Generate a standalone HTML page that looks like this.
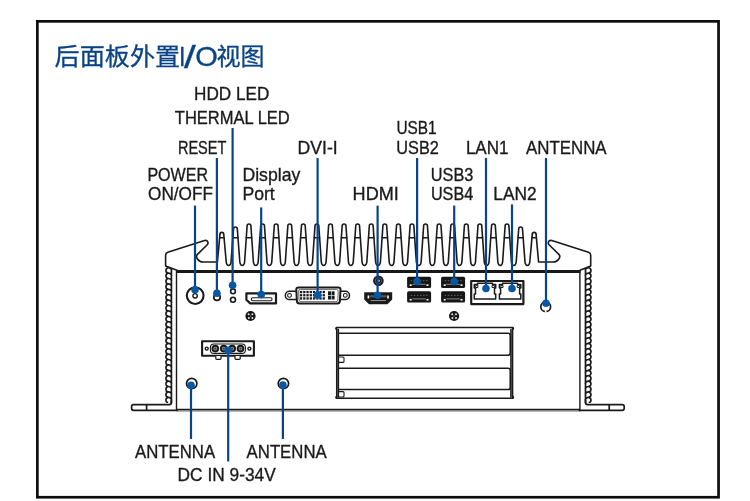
<!DOCTYPE html>
<html lang="zh-CN"><head><meta charset="utf-8"><title>后面板外置I/O视图</title>
<style>
html,body{margin:0;padding:0;background:#fff;}
body{width:750px;height:501px;overflow:hidden;}
svg{display:block;will-change:transform;}
.lb{font-family:"Liberation Sans","Noto Sans CJK SC",sans-serif;font-size:19px;fill:#1a1a1a;stroke:#1a1a1a;stroke-width:0.35px;}
.tt{font-family:"Liberation Sans","Noto Sans CJK SC",sans-serif;font-size:24px;font-weight:400;fill:#0a4384;stroke:#0a4384;stroke-width:0.3px;}
.k{fill:none;stroke:#1a1a1a;stroke-width:1.4;stroke-linejoin:round;stroke-linecap:round;}
.kw{fill:#fff;stroke:#1a1a1a;stroke-width:1.3;stroke-linejoin:round;}
.b{stroke:#09448a;stroke-width:2.2;fill:none;}
.d{fill:#0857a5;}
</style></head><body>
<svg width="750" height="501" viewBox="0 0 750 501">
<rect x="37.35" y="21.35" width="681.2" height="475.9" fill="none" stroke="#0d0d0d" stroke-width="2.7"/>
<text class="tt" y="65.2"><tspan x="54.6" textLength="125.6" lengthAdjust="spacingAndGlyphs">后面板外置</tspan><tspan x="179" y="65.9" style="font-size:27.5px;font-weight:400" textLength="6.5" lengthAdjust="spacingAndGlyphs">I</tspan><tspan x="184" y="67.6" style="font-size:31px;font-weight:400" textLength="11.8" lengthAdjust="spacingAndGlyphs">/</tspan><tspan x="195.2" y="65.9" style="font-size:27.5px;font-weight:400" textLength="22.6" lengthAdjust="spacingAndGlyphs">O</tspan><tspan x="216.6" y="65.2" textLength="48" lengthAdjust="spacingAndGlyphs">视图</tspan></text>
<g>
<text class="lb" x="194.1" y="100.4" textLength="75.2" lengthAdjust="spacingAndGlyphs">HDD LED</text>
<text class="lb" x="174.8" y="124.0" textLength="115.0" lengthAdjust="spacingAndGlyphs">THERMAL LED</text>
<text class="lb" x="177.9" y="153.8" textLength="48.5" lengthAdjust="spacingAndGlyphs">RESET</text>
<text class="lb" x="147.4" y="180.8" textLength="60.6" lengthAdjust="spacingAndGlyphs">POWER</text>
<text class="lb" x="148.0" y="200.4" textLength="65.0" lengthAdjust="spacingAndGlyphs">ON/OFF</text>
<text class="lb" x="242.4" y="180.8" textLength="57.9" lengthAdjust="spacingAndGlyphs">Display</text>
<text class="lb" x="242.4" y="200.4" textLength="32.3" lengthAdjust="spacingAndGlyphs">Port</text>
<text class="lb" x="297.6" y="153.8" textLength="40.1" lengthAdjust="spacingAndGlyphs">DVI-I</text>
<text class="lb" x="352.6" y="200.4" textLength="46.2" lengthAdjust="spacingAndGlyphs">HDMI</text>
<text class="lb" x="396.4" y="134.0" textLength="40.2" lengthAdjust="spacingAndGlyphs">USB1</text>
<text class="lb" x="396.3" y="153.8" textLength="42.5" lengthAdjust="spacingAndGlyphs">USB2</text>
<text class="lb" x="430.8" y="180.8" textLength="42.5" lengthAdjust="spacingAndGlyphs">USB3</text>
<text class="lb" x="430.9" y="200.4" textLength="42.3" lengthAdjust="spacingAndGlyphs">USB4</text>
<text class="lb" x="465.9" y="153.8" textLength="42.6" lengthAdjust="spacingAndGlyphs">LAN1</text>
<text class="lb" x="493.3" y="200.4" textLength="43.3" lengthAdjust="spacingAndGlyphs">LAN2</text>
<text class="lb" x="526.0" y="153.8" textLength="80.6" lengthAdjust="spacingAndGlyphs">ANTENNA</text>
<text class="lb" x="135.0" y="457.9" textLength="80.1" lengthAdjust="spacingAndGlyphs">ANTENNA</text>
<text class="lb" x="246.6" y="457.9" textLength="80.1" lengthAdjust="spacingAndGlyphs">ANTENNA</text>
<text class="lb" x="177.6" y="480.5" textLength="98.1" lengthAdjust="spacingAndGlyphs">DC IN 9-34V</text>
</g>
<path class="k" style="stroke-width:1.6" d="M 177 270.3 L 165.6 266 L 165.6 255.2 Q 165.6 253 167.8 252.3 L 204.5 240.6 Q 207.6 239.8 208 242.6 Q 208.2 244 207 245 L 197.2 254.6 Q 195.6 256.4 197.5 259 Q 199.4 262 203 262 L 217.44 262 L 219.94 234.40 Q 219.94 232.40 221.84 232.40 Q 223.74 232.40 223.74 234.40 L 226.24 262.00 C 226.74 266.60 230.52 266.60 231.02 262.00 L 233.52 229.00 Q 233.52 227.00 235.42 227.00 Q 237.32 227.00 237.32 229.00 L 239.82 262.00 C 240.32 266.60 244.10 266.60 244.60 262.00 L 247.10 226.00 Q 247.10 224.00 249.00 224.00 Q 250.90 224.00 250.90 226.00 L 253.40 262.00 C 253.90 266.60 257.68 266.60 258.18 262.00 L 260.68 226.00 Q 260.68 224.00 262.58 224.00 Q 264.48 224.00 264.48 226.00 L 266.98 262.00 C 267.48 266.60 271.26 266.60 271.76 262.00 L 274.26 226.00 Q 274.26 224.00 276.16 224.00 Q 278.06 224.00 278.06 226.00 L 280.56 262.00 C 281.06 266.60 284.84 266.60 285.34 262.00 L 287.84 226.00 Q 287.84 224.00 289.74 224.00 Q 291.64 224.00 291.64 226.00 L 294.14 262.00 C 294.64 266.60 298.42 266.60 298.92 262.00 L 301.42 226.00 Q 301.42 224.00 303.32 224.00 Q 305.22 224.00 305.22 226.00 L 307.72 262.00 C 308.22 266.60 312.00 266.60 312.50 262.00 L 315.00 226.00 Q 315.00 224.00 316.90 224.00 Q 318.80 224.00 318.80 226.00 L 321.30 262.00 C 321.80 266.60 325.58 266.60 326.08 262.00 L 328.58 226.00 Q 328.58 224.00 330.48 224.00 Q 332.38 224.00 332.38 226.00 L 334.88 262.00 C 335.38 266.60 339.16 266.60 339.66 262.00 L 342.16 226.00 Q 342.16 224.00 344.06 224.00 Q 345.96 224.00 345.96 226.00 L 348.46 262.00 C 348.96 266.60 352.74 266.60 353.24 262.00 L 355.74 226.00 Q 355.74 224.00 357.64 224.00 Q 359.54 224.00 359.54 226.00 L 362.04 262.00 C 362.54 266.60 366.32 266.60 366.82 262.00 L 369.32 226.00 Q 369.32 224.00 371.22 224.00 Q 373.12 224.00 373.12 226.00 L 375.62 262.00 C 376.12 266.60 379.90 266.60 380.40 262.00 L 382.90 226.00 Q 382.90 224.00 384.80 224.00 Q 386.70 224.00 386.70 226.00 L 389.20 262.00 C 389.70 266.60 393.48 266.60 393.98 262.00 L 396.48 226.00 Q 396.48 224.00 398.38 224.00 Q 400.28 224.00 400.28 226.00 L 402.78 262.00 C 403.28 266.60 407.06 266.60 407.56 262.00 L 410.06 226.00 Q 410.06 224.00 411.96 224.00 Q 413.86 224.00 413.86 226.00 L 416.36 262.00 C 416.86 266.60 420.64 266.60 421.14 262.00 L 423.64 226.00 Q 423.64 224.00 425.54 224.00 Q 427.44 224.00 427.44 226.00 L 429.94 262.00 C 430.44 266.60 434.22 266.60 434.72 262.00 L 437.22 226.00 Q 437.22 224.00 439.12 224.00 Q 441.02 224.00 441.02 226.00 L 443.52 262.00 C 444.02 266.60 447.80 266.60 448.30 262.00 L 450.80 226.00 Q 450.80 224.00 452.70 224.00 Q 454.60 224.00 454.60 226.00 L 457.10 262.00 C 457.60 266.60 461.38 266.60 461.88 262.00 L 464.38 226.00 Q 464.38 224.00 466.28 224.00 Q 468.18 224.00 468.18 226.00 L 470.68 262.00 C 471.18 266.60 474.96 266.60 475.46 262.00 L 477.96 226.00 Q 477.96 224.00 479.86 224.00 Q 481.76 224.00 481.76 226.00 L 484.26 262.00 C 484.76 266.60 488.54 266.60 489.04 262.00 L 491.54 226.00 Q 491.54 224.00 493.44 224.00 Q 495.34 224.00 495.34 226.00 L 497.84 262.00 C 498.34 266.60 502.12 266.60 502.62 262.00 L 505.12 226.00 Q 505.12 224.00 507.02 224.00 Q 508.92 224.00 508.92 226.00 L 511.42 262.00 C 511.92 266.60 515.70 266.60 516.20 262.00 L 518.70 229.00 Q 518.70 227.00 520.60 227.00 Q 522.50 227.00 522.50 229.00 L 525.00 262.00 C 525.50 266.60 529.28 266.60 529.78 262.00 L 532.28 234.40 Q 532.28 232.40 534.18 232.40 Q 536.08 232.40 536.08 234.40 L 538.58 262.00 L 553.30 262 Q 556.90 262 558.80 259 Q 560.70 256.4 559.10 254.6 L 549.30 245 Q 548.10 244 548.30 242.6 Q 548.70 239.8 551.80 240.6 L 588.50 252.3 Q 590.70 253 590.70 255.2 L 590.70 266 L 580 270.3"/>
<path class="k" style="stroke-width:1.5" d="M 219.63 237.8 H 224.05 M 232.85 237.8 H 237.99 M 246.28 237.8 H 251.72 M 259.86 237.8 H 265.30 M 273.44 237.8 H 278.88 M 287.02 237.8 H 292.46 M 300.60 237.8 H 306.04 M 314.18 237.8 H 319.62 M 327.76 237.8 H 333.20 M 341.34 237.8 H 346.78 M 354.92 237.8 H 360.36 M 368.50 237.8 H 373.94 M 382.08 237.8 H 387.52 M 395.66 237.8 H 401.10 M 409.24 237.8 H 414.68 M 422.82 237.8 H 428.26 M 436.40 237.8 H 441.84 M 449.98 237.8 H 455.42 M 463.56 237.8 H 469.00 M 477.14 237.8 H 482.58 M 490.72 237.8 H 496.16 M 504.30 237.8 H 509.74 M 518.03 237.8 H 523.17 M 531.97 237.8 H 536.39"/>
<path d="M 176.5 271.5 H 580.5" stroke="#181818" stroke-width="2.9" fill="none"/>
<path d="M 177 409.5 H 580" stroke="#1c1c1c" stroke-width="1.5" fill="none"/><path d="M 177 410.8 H 580" stroke="#707070" stroke-width="1.2" fill="none"/>
<path class="k" d="M 176.5 271 V 410.6 M 579.9 271 V 410.6"/>
<path class="k" style="stroke-width:1.7" d="M 171.4 400 V 402.6 Q 171.4 404.6 169.4 404.6 H 133.6 Q 131.6 404.6 131.6 406.6 V 408.3 Q 131.6 410.3 133.6 410.3 H 177 M 146.6 404.6 V 410.3"/>
<path class="k" style="stroke-width:1.7" d="M 585.5 400 V 402.6 Q 585.5 404.6 587.5 404.6 H 622.2 Q 624.2 404.6 624.2 406.6 V 408.3 Q 624.2 410.3 622.2 410.3 H 579.4 M 609.2 404.6 V 410.3"/>
<clipPath id="cl"><path d="M 160 266 L 165.6 266 L 177 270.3 V 403 H 160 Z"/></clipPath>
<clipPath id="cr"><path d="M 596 266 L 590.70 266 L 580 270.3 V 403 H 596 Z"/></clipPath>
<path class="k" clip-path="url(#cl)" style="stroke-width:1.7" d="M 171.4 266 V 403 M 171.60 269.90 C 170.60 266.90 166.40 267.10 166.00 269.90 Q 165.70 272.50 167.40 272.70 M 171.60 275.30 C 170.60 272.30 166.40 272.50 166.00 275.30 Q 165.70 277.90 167.40 278.10 M 171.60 280.70 C 170.60 277.70 166.40 277.90 166.00 280.70 Q 165.70 283.30 167.40 283.50 M 171.60 286.10 C 170.60 283.10 166.40 283.30 166.00 286.10 Q 165.70 288.70 167.40 288.90 M 171.60 291.50 C 170.60 288.50 166.40 288.70 166.00 291.50 Q 165.70 294.10 167.40 294.30 M 171.60 296.90 C 170.60 293.90 166.40 294.10 166.00 296.90 Q 165.70 299.50 167.40 299.70 M 171.60 302.30 C 170.60 299.30 166.40 299.50 166.00 302.30 Q 165.70 304.90 167.40 305.10 M 171.60 307.70 C 170.60 304.70 166.40 304.90 166.00 307.70 Q 165.70 310.30 167.40 310.50 M 171.60 313.10 C 170.60 310.10 166.40 310.30 166.00 313.10 Q 165.70 315.70 167.40 315.90 M 171.60 318.50 C 170.60 315.50 166.40 315.70 166.00 318.50 Q 165.70 321.10 167.40 321.30 M 171.60 323.90 C 170.60 320.90 166.40 321.10 166.00 323.90 Q 165.70 326.50 167.40 326.70 M 171.60 329.30 C 170.60 326.30 166.40 326.50 166.00 329.30 Q 165.70 331.90 167.40 332.10 M 171.60 334.70 C 170.60 331.70 166.40 331.90 166.00 334.70 Q 165.70 337.30 167.40 337.50 M 171.60 340.10 C 170.60 337.10 166.40 337.30 166.00 340.10 Q 165.70 342.70 167.40 342.90 M 171.60 345.50 C 170.60 342.50 166.40 342.70 166.00 345.50 Q 165.70 348.10 167.40 348.30 M 171.60 350.90 C 170.60 347.90 166.40 348.10 166.00 350.90 Q 165.70 353.50 167.40 353.70 M 171.60 356.30 C 170.60 353.30 166.40 353.50 166.00 356.30 Q 165.70 358.90 167.40 359.10 M 171.60 361.70 C 170.60 358.70 166.40 358.90 166.00 361.70 Q 165.70 364.30 167.40 364.50 M 171.60 367.10 C 170.60 364.10 166.40 364.30 166.00 367.10 Q 165.70 369.70 167.40 369.90 M 171.60 372.50 C 170.60 369.50 166.40 369.70 166.00 372.50 Q 165.70 375.10 167.40 375.30 M 171.60 377.90 C 170.60 374.90 166.40 375.10 166.00 377.90 Q 165.70 380.50 167.40 380.70 M 171.60 383.30 C 170.60 380.30 166.40 380.50 166.00 383.30 Q 165.70 385.90 167.40 386.10 M 171.60 388.70 C 170.60 385.70 166.40 385.90 166.00 388.70 Q 165.70 391.30 167.40 391.50 M 171.60 394.10 C 170.60 391.10 166.40 391.30 166.00 394.10 Q 165.70 396.70 167.40 396.90 M 171.60 399.50 C 170.60 396.50 166.40 396.70 166.00 399.50 Q 165.70 402.10 167.40 402.30"/>
<path class="k" clip-path="url(#cr)" style="stroke-width:1.7" d="M 585.50 266 V 403 M 585.30 269.90 C 586.30 266.90 590.50 267.10 590.90 269.90 Q 591.20 272.50 589.50 272.70 M 585.30 275.30 C 586.30 272.30 590.50 272.50 590.90 275.30 Q 591.20 277.90 589.50 278.10 M 585.30 280.70 C 586.30 277.70 590.50 277.90 590.90 280.70 Q 591.20 283.30 589.50 283.50 M 585.30 286.10 C 586.30 283.10 590.50 283.30 590.90 286.10 Q 591.20 288.70 589.50 288.90 M 585.30 291.50 C 586.30 288.50 590.50 288.70 590.90 291.50 Q 591.20 294.10 589.50 294.30 M 585.30 296.90 C 586.30 293.90 590.50 294.10 590.90 296.90 Q 591.20 299.50 589.50 299.70 M 585.30 302.30 C 586.30 299.30 590.50 299.50 590.90 302.30 Q 591.20 304.90 589.50 305.10 M 585.30 307.70 C 586.30 304.70 590.50 304.90 590.90 307.70 Q 591.20 310.30 589.50 310.50 M 585.30 313.10 C 586.30 310.10 590.50 310.30 590.90 313.10 Q 591.20 315.70 589.50 315.90 M 585.30 318.50 C 586.30 315.50 590.50 315.70 590.90 318.50 Q 591.20 321.10 589.50 321.30 M 585.30 323.90 C 586.30 320.90 590.50 321.10 590.90 323.90 Q 591.20 326.50 589.50 326.70 M 585.30 329.30 C 586.30 326.30 590.50 326.50 590.90 329.30 Q 591.20 331.90 589.50 332.10 M 585.30 334.70 C 586.30 331.70 590.50 331.90 590.90 334.70 Q 591.20 337.30 589.50 337.50 M 585.30 340.10 C 586.30 337.10 590.50 337.30 590.90 340.10 Q 591.20 342.70 589.50 342.90 M 585.30 345.50 C 586.30 342.50 590.50 342.70 590.90 345.50 Q 591.20 348.10 589.50 348.30 M 585.30 350.90 C 586.30 347.90 590.50 348.10 590.90 350.90 Q 591.20 353.50 589.50 353.70 M 585.30 356.30 C 586.30 353.30 590.50 353.50 590.90 356.30 Q 591.20 358.90 589.50 359.10 M 585.30 361.70 C 586.30 358.70 590.50 358.90 590.90 361.70 Q 591.20 364.30 589.50 364.50 M 585.30 367.10 C 586.30 364.10 590.50 364.30 590.90 367.10 Q 591.20 369.70 589.50 369.90 M 585.30 372.50 C 586.30 369.50 590.50 369.70 590.90 372.50 Q 591.20 375.10 589.50 375.30 M 585.30 377.90 C 586.30 374.90 590.50 375.10 590.90 377.90 Q 591.20 380.50 589.50 380.70 M 585.30 383.30 C 586.30 380.30 590.50 380.50 590.90 383.30 Q 591.20 385.90 589.50 386.10 M 585.30 388.70 C 586.30 385.70 590.50 385.90 590.90 388.70 Q 591.20 391.30 589.50 391.50 M 585.30 394.10 C 586.30 391.10 590.50 391.30 590.90 394.10 Q 591.20 396.70 589.50 396.90 M 585.30 399.50 C 586.30 396.50 590.50 396.70 590.90 399.50 Q 591.20 402.10 589.50 402.30"/>
<path class="k" style="stroke-width:1.5" d="M 336.2 329.3 Q 335.4 328.2 336.6 327.5 H 512.7 Q 513.9 328.2 513.1 329.3 M 336.2 396.6 Q 335.4 397.7 336.6 398.3 H 512.7 Q 513.9 397.7 513.1 396.6"/>
<path class="k" style="stroke-width:1.5" d="M 336.7 328 V 398 M 338.4 329.5 V 397 M 512.6 328 V 398 M 510.9 329.5 V 397"/>
<path class="k" style="stroke-width:1.5" d="M 339 333.2 H 508 Q 510.2 333.2 510.2 335.2 V 353 Q 510.2 355.2 508 355.2 H 339"/>
<path class="k" style="stroke-width:1.5" d="M 339 368.2 H 508 Q 510.2 368.2 510.2 370.2 V 387.4 Q 510.2 389.6 508 389.6 H 339"/>
<path class="k" style="stroke-width:1.1" d="M 339 357 H 343 Q 344 357 344 358 V 361.4 Q 344 362.4 343 362.4 H 339 M 339 391.6 H 343 Q 344 391.6 344 392.6 V 396 Q 344 397 343 397 H 339"/>
<circle class="kw" style="stroke-width:2.1" cx="195.2" cy="295.6" r="8.4"/>
<circle class="kw" style="stroke-width:1.4" cx="195.1" cy="295.8" r="2.2"/>
<circle class="kw" style="stroke-width:1.7" cx="217" cy="297.2" r="3.2"/>
<circle class="kw" style="stroke-width:1.6" cx="233" cy="291.3" r="2.4"/>
<circle class="kw" style="stroke-width:1.6" cx="233" cy="299.7" r="2.5"/>
<path class="kw" style="stroke-width:2.2" d="M 246.4 293.4 H 276 V 303.4 H 250.2 L 246.4 299.8 Z"/>
<rect class="k" style="stroke-width:1.1" x="251.4" y="297.8" width="20.6" height="3" rx="1.2"/>
<circle cx="250.5" cy="316.0" r="5.1" fill="#151515"/>
<circle cx="248.6" cy="314.3" r="1" fill="#e8e8e8"/>
<circle cx="252.4" cy="314.3" r="1" fill="#e8e8e8"/>
<circle cx="248.8" cy="317.9" r="1" fill="#e8e8e8"/>
<circle cx="252.4" cy="317.9" r="1" fill="#e8e8e8"/>
<circle cx="250.5" cy="316.0" r="0.8" fill="#777"/>
<circle cx="454.1" cy="316.0" r="5.1" fill="#151515"/>
<circle cx="452.2" cy="314.3" r="1" fill="#e8e8e8"/>
<circle cx="456.0" cy="314.3" r="1" fill="#e8e8e8"/>
<circle cx="452.4" cy="317.9" r="1" fill="#e8e8e8"/>
<circle cx="456.0" cy="317.9" r="1" fill="#e8e8e8"/>
<circle cx="454.1" cy="316.0" r="0.8" fill="#777"/>
<path class="kw" style="stroke-width:1.5" d="M 289.5 291.2 H 345.3 A 4.2 4.2 0 0 1 345.3 299.6 H 289.5 A 4.2 4.2 0 0 1 289.5 291.2 Z"/>
<circle class="kw" style="stroke-width:1.1" cx="289.5" cy="295.4" r="1.9"/>
<circle class="kw" style="stroke-width:1.1" cx="345.3" cy="295.4" r="1.9"/>
<path class="kw" style="stroke-width:2" d="M 298.6 287.4 H 338.2 Q 340.6 287.4 340.5 289.8 L 339.9 301.2 Q 339.7 303.6 337.3 303.6 H 299.5 Q 297.1 303.6 296.9 301.2 L 296.3 289.8 Q 296.2 287.4 298.6 287.4 Z"/>
<path style="fill:none;stroke:#666;stroke-width:1" d="M 300.4 289.4 H 336.4 Q 338.3 289.4 338.2 291.2 L 337.8 300 Q 337.7 301.7 335.9 301.7 H 300.9 Q 299.1 301.7 299 300 L 298.6 291.2 Q 298.5 289.4 300.4 289.4 Z"/>
<rect x="299.90" y="290.90" width="2.3" height="2.3" fill="#1a1a1a"/><rect x="303.15" y="290.90" width="2.3" height="2.3" fill="#1a1a1a"/><rect x="306.40" y="290.90" width="2.3" height="2.3" fill="#1a1a1a"/><rect x="309.65" y="290.90" width="2.3" height="2.3" fill="#1a1a1a"/><rect x="312.90" y="290.90" width="2.3" height="2.3" fill="#1a1a1a"/><rect x="316.15" y="290.90" width="2.3" height="2.3" fill="#1a1a1a"/><rect x="319.40" y="290.90" width="2.3" height="2.3" fill="#1a1a1a"/><rect x="322.65" y="290.90" width="2.3" height="2.3" fill="#1a1a1a"/><rect x="299.90" y="294.10" width="2.3" height="2.3" fill="#1a1a1a"/><rect x="303.15" y="294.10" width="2.3" height="2.3" fill="#1a1a1a"/><rect x="306.40" y="294.10" width="2.3" height="2.3" fill="#1a1a1a"/><rect x="309.65" y="294.10" width="2.3" height="2.3" fill="#1a1a1a"/><rect x="312.90" y="294.10" width="2.3" height="2.3" fill="#1a1a1a"/><rect x="316.15" y="294.10" width="2.3" height="2.3" fill="#1a1a1a"/><rect x="319.40" y="294.10" width="2.3" height="2.3" fill="#1a1a1a"/><rect x="322.65" y="294.10" width="2.3" height="2.3" fill="#1a1a1a"/><rect x="299.90" y="297.30" width="2.3" height="2.3" fill="#1a1a1a"/><rect x="303.15" y="297.30" width="2.3" height="2.3" fill="#1a1a1a"/><rect x="306.40" y="297.30" width="2.3" height="2.3" fill="#1a1a1a"/><rect x="309.65" y="297.30" width="2.3" height="2.3" fill="#1a1a1a"/><rect x="312.90" y="297.30" width="2.3" height="2.3" fill="#1a1a1a"/><rect x="316.15" y="297.30" width="2.3" height="2.3" fill="#1a1a1a"/><rect x="319.40" y="297.30" width="2.3" height="2.3" fill="#1a1a1a"/><rect x="322.65" y="297.30" width="2.3" height="2.3" fill="#1a1a1a"/>
<rect x="328.00" y="291.30" width="3" height="3.8" fill="#1a1a1a"/>
<rect x="328.00" y="295.70" width="3" height="3.8" fill="#1a1a1a"/>
<rect x="331.60" y="291.30" width="3" height="3.8" fill="#1a1a1a"/>
<rect x="331.60" y="295.70" width="3" height="3.8" fill="#1a1a1a"/>
<circle cx="378.4" cy="280.8" r="4.3" fill="#777" stroke="#1a1a1a" stroke-width="2"/>
<circle cx="378.4" cy="280.8" r="2" fill="#fff" stroke="#1a1a1a" stroke-width="1.4"/>
<path d="M 364.2 292.2 H 392.2 V 299.4 L 387.4 304.2 H 369 L 364.2 299.4 Z" fill="#1a1a1a"/>
<path d="M 368.4 295.6 V 298.6 M 388 295.6 V 298.6" stroke="#fff" stroke-width="1.6" fill="none"/>
<path d="M 370.6 300.6 H 385.8" stroke="#999" stroke-width="1" fill="none"/>
<path d="M 370 295.2 H 386.4 V 297.4 H 370 Z" fill="#555"/>
<rect x="407.1" y="276.7" width="24" height="11.3" rx="1.6" fill="#161616"/>
<path d="M 410.7 280.7 h 17" stroke="#777" stroke-width="0.9" stroke-dasharray="1.4 1.7" fill="none"/>
<path d="M 412.4 284.3 h 13.4" stroke="#888" stroke-width="1" fill="none"/>
<rect x="409.7" y="284.3" width="2" height="1.7" fill="#eee"/><rect x="426.5" y="284.3" width="2" height="1.7" fill="#eee"/>
<rect x="407.1" y="291.3" width="24" height="11.3" rx="1.6" fill="#161616"/>
<path d="M 410.7 295.3 h 17" stroke="#777" stroke-width="0.9" stroke-dasharray="1.4 1.7" fill="none"/>
<path d="M 412.4 298.9 h 13.4" stroke="#888" stroke-width="1" fill="none"/>
<rect x="409.7" y="298.9" width="2" height="1.7" fill="#eee"/><rect x="426.5" y="298.9" width="2" height="1.7" fill="#eee"/>
<rect x="441.1" y="276.7" width="24" height="11.3" rx="1.6" fill="#161616"/>
<path d="M 444.7 280.7 h 17" stroke="#777" stroke-width="0.9" stroke-dasharray="1.4 1.7" fill="none"/>
<path d="M 446.4 284.3 h 13.4" stroke="#888" stroke-width="1" fill="none"/>
<rect x="443.7" y="284.3" width="2" height="1.7" fill="#eee"/><rect x="460.5" y="284.3" width="2" height="1.7" fill="#eee"/>
<rect x="441.1" y="291.3" width="24" height="11.3" rx="1.6" fill="#161616"/>
<path d="M 444.7 295.3 h 17" stroke="#777" stroke-width="0.9" stroke-dasharray="1.4 1.7" fill="none"/>
<path d="M 446.4 298.9 h 13.4" stroke="#888" stroke-width="1" fill="none"/>
<rect x="443.7" y="298.9" width="2" height="1.7" fill="#eee"/><rect x="460.5" y="298.9" width="2" height="1.7" fill="#eee"/>
<rect class="kw" style="stroke-width:2.2" x="471.2" y="281" width="52.2" height="23.1" />
<path class="kw" style="stroke-width:1.5" d="M 477.5 283.3 L 492.5 283.3 L 492.5 284.5 L 495.7 284.5 L 495.7 288.1 L 494.5 288.1 L 494.5 293.9 L 495.7 293.9 L 495.7 299.1 L 474.3 299.1 L 474.3 293.9 L 475.5 293.9 L 475.5 288.1 L 474.3 288.1 L 474.3 284.5 L 477.5 284.5 Z"/>
<rect class="kw" style="stroke-width:1" x="475.7" y="285.3" width="2.2" height="2.2"/>
<rect class="kw" style="stroke-width:1" x="492.1" y="285.3" width="2.2" height="2.2"/>
<path class="kw" style="stroke-width:1.5" d="M 502.6 283.3 L 517.6 283.3 L 517.6 284.5 L 520.8 284.5 L 520.8 288.1 L 519.6 288.1 L 519.6 293.9 L 520.8 293.9 L 520.8 299.1 L 499.4 299.1 L 499.4 293.9 L 500.6 293.9 L 500.6 288.1 L 499.4 288.1 L 499.4 284.5 L 502.6 284.5 Z"/>
<rect class="kw" style="stroke-width:1" x="500.8" y="285.3" width="2.2" height="2.2"/>
<rect class="kw" style="stroke-width:1" x="517.2" y="285.3" width="2.2" height="2.2"/>
<circle class="kw" style="stroke-width:1.7" cx="545.7" cy="306.8" r="4.9"/>
<circle class="kw" style="stroke-width:1.7" cx="191.7" cy="383.5" r="5.2"/>
<circle class="kw" style="stroke-width:1.7" cx="283.4" cy="383.5" r="5.2"/>
<rect x="544.9" y="310.4" width="1.6" height="2.8" fill="#fff"/>
<rect class="kw" style="stroke-width:2.1" x="202.1" y="341.3" width="51.8" height="14.5"/>
<rect class="kw" style="stroke-width:1.1" x="210.4" y="344" width="35" height="9.4" rx="3.5"/>
<circle cx="215.3" cy="348.6" r="2.9" fill="#8a8a8a" stroke="#1a1a1a" stroke-width="1.9"/>
<circle cx="215.3" cy="348.6" r="0.9" fill="#333"/>
<circle cx="223.7" cy="348.6" r="2.9" fill="#8a8a8a" stroke="#1a1a1a" stroke-width="1.9"/>
<circle cx="223.7" cy="348.6" r="0.9" fill="#333"/>
<circle cx="232.2" cy="348.6" r="2.9" fill="#8a8a8a" stroke="#1a1a1a" stroke-width="1.9"/>
<circle cx="232.2" cy="348.6" r="0.9" fill="#333"/>
<circle cx="240.5" cy="348.6" r="2.9" fill="#8a8a8a" stroke="#1a1a1a" stroke-width="1.9"/>
<circle cx="240.5" cy="348.6" r="0.9" fill="#333"/>
<circle class="kw" style="stroke-width:1.4" cx="206.7" cy="348.6" r="1.5"/>
<circle class="kw" style="stroke-width:1.4" cx="249.4" cy="348.6" r="1.5"/>
<path class="kw" style="stroke-width:1.2" d="M 215.8 356 V 358.6 Q 215.8 359.4 216.6 359.4 H 220.2 Q 221 359.4 221 358.6 V 356 M 235 356 V 358.6 Q 235 359.4 235.8 359.4 H 239.4 Q 240.2 359.4 240.2 358.6 V 356"/>
<path class="b" d="M 195.0 205.6 V 289.8"/><circle class="d" cx="195.0" cy="289.8" r="3.8"/>
<path class="b" d="M 216.9 158.0 V 293.2"/><circle class="d" cx="216.9" cy="293.2" r="3.8"/>
<path class="b" d="M 232.6 128.0 V 285.2"/><circle class="d" cx="232.6" cy="285.2" r="3.8"/>
<path class="b" d="M 261.2 207.4 V 294.6"/><circle class="d" cx="261.2" cy="294.6" r="3.8"/>
<path class="b" d="M 317.6 158.0 V 295.2"/><circle class="d" cx="317.6" cy="295.2" r="3.8"/>
<path class="b" d="M 377.6 205.6 V 295.3"/><circle class="d" cx="377.6" cy="295.3" r="3.8"/>
<path class="b" d="M 417.1 158.0 V 281.6"/><circle class="d" cx="417.1" cy="281.6" r="3.8"/>
<path class="b" d="M 454.2 205.6 V 281.6"/><circle class="d" cx="454.2" cy="281.6" r="3.8"/>
<path class="b" d="M 486.0 158.0 V 288.5"/><circle class="d" cx="486.0" cy="288.5" r="3.8"/>
<path class="b" d="M 512.0 204.4 V 288.5"/><circle class="d" cx="512.0" cy="288.5" r="3.8"/>
<path class="b" d="M 546.0 158.0 V 303.2"/><circle class="d" cx="546.0" cy="303.2" r="3.8"/>
<path class="b" d="M 191.0 439.0 V 385.2"/><circle class="d" cx="191.0" cy="385.2" r="3.8"/>
<path class="b" d="M 228.2 461.5 V 350.4"/><circle class="d" cx="228.2" cy="350.4" r="3.8"/>
<path class="b" d="M 282.9 439.0 V 385.1"/><circle class="d" cx="282.9" cy="385.1" r="3.8"/>
</svg>
</body></html>
